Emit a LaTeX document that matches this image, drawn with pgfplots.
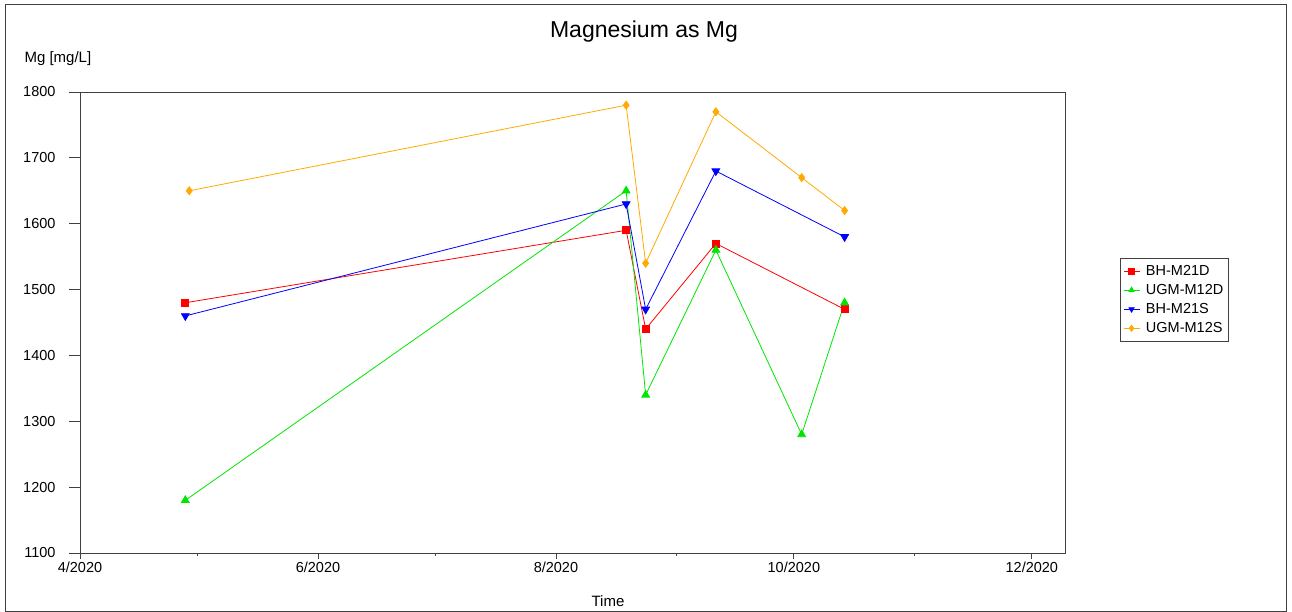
\documentclass[border=0pt]{standalone}
\usepackage{fontspec}
\setmainfont{Liberation Sans}
\usepackage{pgfplots}
\pgfplotsset{compat=1.18}
\definecolor{mgred}{RGB}{255,0,0}
\definecolor{mggreen}{RGB}{0,230,0}
\definecolor{mgblue}{RGB}{0,0,255}
\definecolor{mgorange}{RGB}{255,170,0}
\definecolor{framegray}{RGB}{64,64,64}
\begin{document}
\begin{tikzpicture}
\useasboundingbox (0,0) rectangle (1292bp,612bp);
\draw[framegray, line width=1bp] (5bp,1bp) rectangle (1286bp,607bp);
\node[font=\fontsize{23bp}{27bp}\selectfont] at (644bp,580bp) {Magnesium as Mg};
\node[anchor=west, font=\fontsize{15bp}{18bp}\selectfont] at (21bp,553bp) {Mg [mg/L]};
\node[font=\fontsize{15bp}{18bp}\selectfont] at (608bp,11bp) {Time};
\begin{axis}[
  at={(80bp,59bp)}, anchor=south west,
  width=985bp, height=461bp, scale only axis,
  xmin=0, xmax=252.5, ymin=1100, ymax=1800,
  xtick={0,61,122,183,244},
  xticklabels={4/2020,6/2020,8/2020,10/2020,12/2020},
  minor xtick={30,91,153,214},
  ytick=\empty,
  extra y ticks={1100,1200,1300,1400,1500,1600,1700,1800},
  extra y tick style={major tick length=11bp, yticklabel style={xshift=-10bp}},
  tick pos=left, tick align=outside,
  major tick length=6bp, minor tick length=3bp,
  axis line style={framegray, line width=0.9bp},
  every tick/.style={framegray, line width=0.8bp},
  ticklabel style={font=\fontsize{14.5bp}{17bp}\selectfont},
  xticklabel style={yshift=1bp},
  /pgf/number format/assume math mode=true,
  /pgf/number format/1000 sep={},
  legend style={at={(axis description cs:1.0558,0.640)}, anchor=north west,
    draw=framegray, font=\fontsize{14.5bp}{17bp}\selectfont,
    inner xsep=3bp, inner ysep=5bp, row sep=3.5bp, cells={anchor=west},
    /tikz/every odd column/.append style={column sep=4bp}},
  legend image code/.code={\draw[mark repeat=2,mark phase=2,mark size=3bp] plot coordinates {(0bp,0bp) (8bp,0bp) (16bp,0bp)};},
  every axis plot/.append style={line width=0.8bp},
]
\addplot[mgred, mark=square*, mark size=3.5bp] coordinates {
 (27,1480) (140,1590) (145,1440) (163,1570) (196,1470)};
\addlegendentry{BH-M21D}
\addplot[mggreen, mark=triangle*, mark size=4.5bp] coordinates {
 (27,1180) (140,1650) (145,1340) (163,1560) (185,1280) (196,1480)};
\addlegendentry{UGM-M12D}
\addplot[mgblue, mark=triangle*, mark size=4.5bp, mark options={rotate=180}] coordinates {
 (27,1460) (140,1630) (145,1470) (163,1680) (196,1580)};
\addlegendentry{BH-M21S}
\addplot[mgorange, mark=diamond*, mark size=4bp] coordinates {
 (28,1650) (140,1780) (145,1540) (163,1770) (185,1670) (196,1620)};
\addlegendentry{UGM-M12S}
\end{axis}
\end{tikzpicture}
\end{document}
